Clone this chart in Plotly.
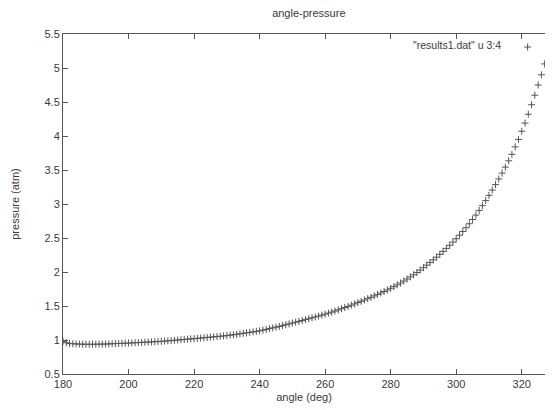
import plotly.graph_objects as go

# crank angle (deg), one sample per degree
angle_start = 180
pressure_atm = [
    0.980, 0.960, 0.950, 0.945, 0.942, 0.940, 0.938, 0.937, 0.937, 0.937,
    0.938, 0.939, 0.940, 0.941, 0.943, 0.945, 0.947, 0.949, 0.951, 0.953,
    0.955, 0.957, 0.960, 0.962, 0.965, 0.967, 0.970, 0.972, 0.975, 0.977,
    0.980, 0.984, 0.988, 0.992, 0.996, 1.000, 1.004, 1.008, 1.012, 1.016,
    1.020, 1.024, 1.028, 1.033, 1.037, 1.042, 1.046, 1.051, 1.055, 1.060,
    1.065, 1.071, 1.077, 1.084, 1.091, 1.098, 1.105, 1.112, 1.119, 1.127,
    1.135, 1.145, 1.156, 1.167, 1.178, 1.189, 1.200, 1.212, 1.224, 1.237,
    1.250, 1.262, 1.274, 1.287, 1.300, 1.313, 1.326, 1.339, 1.352, 1.366,
    1.380, 1.395, 1.410, 1.426, 1.443, 1.460, 1.477, 1.494, 1.512, 1.531,
    1.550, 1.569, 1.588, 1.608, 1.628, 1.649, 1.670, 1.691, 1.713, 1.736,
    1.760, 1.785, 1.811, 1.838, 1.867, 1.897, 1.928, 1.960, 1.993, 2.028,
    2.064, 2.101, 2.139, 2.178, 2.218, 2.260, 2.303, 2.347, 2.393, 2.440,
    2.489, 2.541, 2.595, 2.651, 2.710, 2.772, 2.837, 2.905, 2.976, 3.050,
    3.127, 3.205, 3.285, 3.368, 3.454, 3.543, 3.635, 3.730, 3.840, 3.950,
    4.070, 4.190, 4.320, 4.460, 4.600, 4.750, 4.900, 5.060,
]
angles = [angle_start + i for i in range(len(pressure_atm))]

x_ticks = [180, 200, 220, 240, 260, 280, 300, 320]
y_ticks = [0.5, 1, 1.5, 2, 2.5, 3, 3.5, 4, 4.5, 5, 5.5]
y_tick_labels = ["0.5", "1", "1.5", "2", "2.5", "3", "3.5", "4", "4.5", "5", "5.5"]

series_name = '"results1.dat" u 3:4'

axis_color = "#555555"
text_color = "#3a3a3a"
marker_color = "#555555"
font_family = "Liberation Sans, Arial, sans-serif"

fig = go.Figure()
fig.add_trace(go.Scatter(
    x=angles, y=pressure_atm, mode="markers", name="",
    marker=dict(symbol="cross-thin", size=5,
                line=dict(width=1, color=marker_color), color=marker_color),
    showlegend=True,
))

# key text (gnuplot places it to the left of the sample symbol)
fig.add_annotation(
    text=series_name, xref="paper", yref="paper",
    x=(510 - 63) / 490, y=(374.5 - 45) / 341, xanchor="right", yanchor="middle",
    showarrow=False, font=dict(size=10.5, color=text_color, family=font_family),
)

fig.update_layout(
    width=553, height=410,
    margin=dict(l=63, r=0, t=34, b=36),
    paper_bgcolor="white", plot_bgcolor="white",
    font=dict(family=font_family, size=11, color=text_color),
    title=dict(text="angle-pressure", x=0.51, xref="paper", xanchor="center",
               y=1 - 13 / 410, yanchor="middle",
               font=dict(size=11, color=text_color)),
    legend=dict(
        x=(515 - 63) / 490, xanchor="left", y=(374.5 - 32) / 341, yanchor="top",
        bgcolor="rgba(0,0,0,0)", borderwidth=0, itemwidth=30,
        font=dict(size=11, color=text_color),
    ),
    showlegend=True,
)

fig.update_xaxes(
    range=[180, 327.1], tickvals=x_ticks, ticktext=[str(v) for v in x_ticks],
    showline=True, linecolor=axis_color, linewidth=1, mirror="ticks",
    ticks="inside", ticklen=5, tickcolor=axis_color,
    showgrid=False, zeroline=False,
    title=dict(text="angle (deg)", standoff=4, font=dict(size=11, color=text_color)),
    tickfont=dict(size=11, color=text_color),
)
fig.update_yaxes(
    range=[0.5, 5.5], tickvals=y_ticks, ticktext=y_tick_labels,
    showline=True, linecolor=axis_color, linewidth=1, mirror=False,
    ticks="inside", ticklen=5, tickcolor=axis_color,
    showgrid=False, zeroline=False,
    title=dict(text="pressure (atm)", standoff=22, font=dict(size=11, color=text_color)),
    tickfont=dict(size=11, color=text_color),
)

fig.write_html(
    "out.html",
    config={"displayModeBar": False},
    post_script="document.body.style.margin='0';document.body.style.overflow='hidden';",
)
